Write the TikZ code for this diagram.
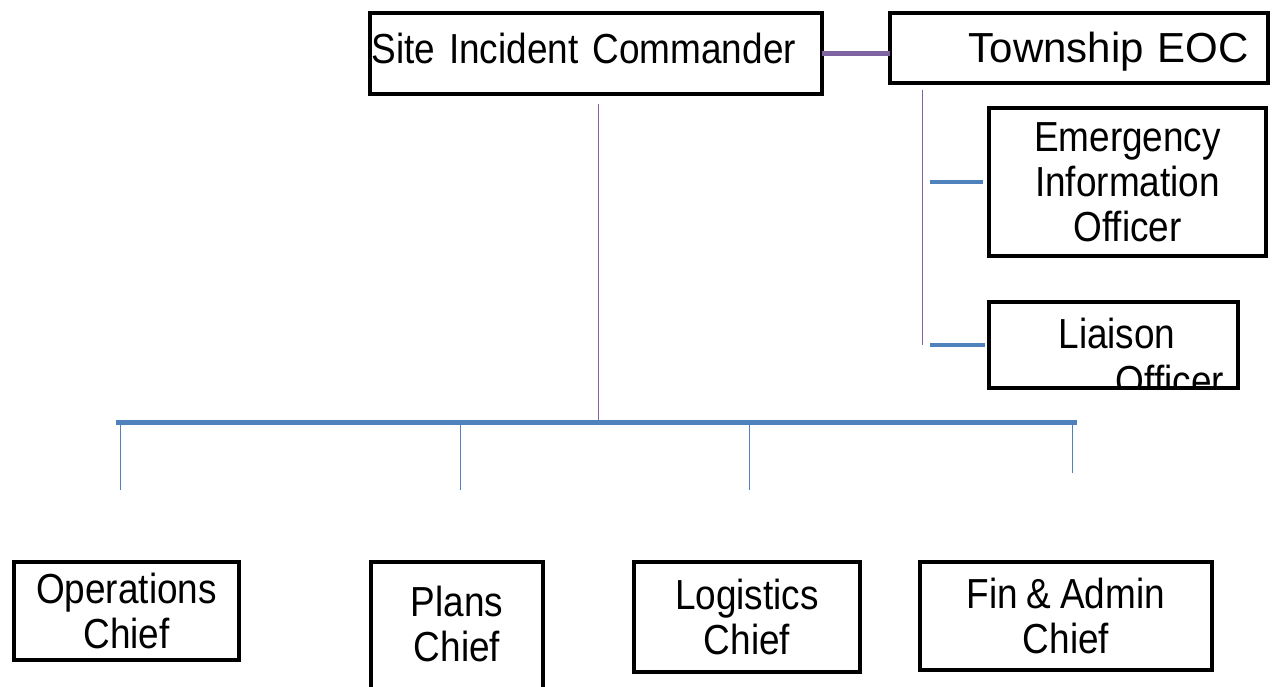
\documentclass[tikz,border=0pt]{standalone}
\usepackage{fontspec}
\setmainfont{Liberation Sans}[FakeStretch=0.88, WordSpace=0.85]
\newfontfamily\widesans{Liberation Sans}
\usetikzlibrary{positioning}
\definecolor{orgpurple}{HTML}{8064A2}
\definecolor{orgblue}{HTML}{4F81BD}

\begin{document}
\begin{tikzpicture}[x=1pt, y=-1pt,
    post/.style={draw, line width=4pt, inner sep=0pt, outer sep=0pt,
      align=center, font=\fontsize{42}{45}\selectfont},
    link/.style={orgpurple, line width=4.5pt},
    trunk/.style={orgpurple, line width=0.8pt},
    bus/.style={orgblue, line width=5pt},
    drop/.style={orgblue, line width=0.8pt},
    stub/.style={orgblue, line width=4.5pt}]
    \useasboundingbox (0,0) rectangle (1274,687);

    \node (sic) [post, minimum width=452pt, minimum height=81pt,
      text width=449pt, align=left, text height=40pt, text depth=19pt]
      at (596,53.5) {Site Incident Commander};
    \node (teoc) [post, minimum width=378pt, minimum height=70pt,
      inner xsep=19pt, text width=340pt, align=right,
      text height=30pt, text depth=0pt, font=\widesans\fontsize{42}{45}\selectfont]
      at (1079,48) {Township EOC};
    \node (eio) [post, minimum width=277pt, minimum height=148pt]
      at (1127.5,182) {Emergency\\Information\\Officer};
    \node (lo) [post, minimum width=249pt, minimum height=86pt,
      below=46pt of eio.south west, anchor=north west,
      path picture={\node (loText) [anchor=base, align=center,
        font=\fontsize{42}{47}\selectfont]
        at ([xshift=3.5pt, yshift=-50pt]path picture bounding box.center)
        {Liaison\\\hspace*{106pt}Officer};}] {};

    \node (ops) [post, minimum width=225pt, minimum height=98pt]
      at (126.5,611) {Operations\\Chief};
    \node (plans) [post, draw=none, minimum width=172pt, minimum height=124pt]
      at (457,624) {Plans\\Chief};
    \node (logi) [post, minimum width=226pt, minimum height=110pt]
      at (747,617) {Logistics\\Chief};
    \node (fin) [post, minimum width=292pt, minimum height=108pt]
      at (1066,616) {Fin \& Admin\\Chief};
    \draw[line width=4pt] ([yshift=-30pt]plans.south west) |- (plans.north)
      -| ([yshift=-30pt]plans.south east);

    \coordinate (cmdBus) at (598,422);
    \coordinate (busW) at (116,422);
    \coordinate (busE) at (1077,422);
    \coordinate (opsTip) at (120,490);
    \coordinate (plansTip) at (460,490);
    \coordinate (logiTip) at (749,490);
    \coordinate (finTip) at (1072,473);
    \coordinate (eocTail) at (922,345);

    \draw[link] (sic.east) -- (sic.east -| teoc.west);
    \draw[trunk, shorten <=10pt] (sic.south -| cmdBus) -- (cmdBus);
    \draw[bus] (busW) -- (busE);
    \path[drop]
      (opsTip |- busW) edge (opsTip)
      (plansTip |- busW) edge (plansTip)
      (logiTip |- busW) edge (logiTip)
      (finTip |- busW) edge (finTip);
    \draw[trunk, shorten <=7pt] (teoc.south -| eocTail) -- (eocTail);
    \draw[stub, shorten <=6pt, shorten >=8pt] (eio.west) -- (eio.west -| eocTail);
    \draw[stub, shorten <=4pt, shorten >=8pt] (lo.west) -- (lo.west -| eocTail);
\end{tikzpicture}
\end{document}
